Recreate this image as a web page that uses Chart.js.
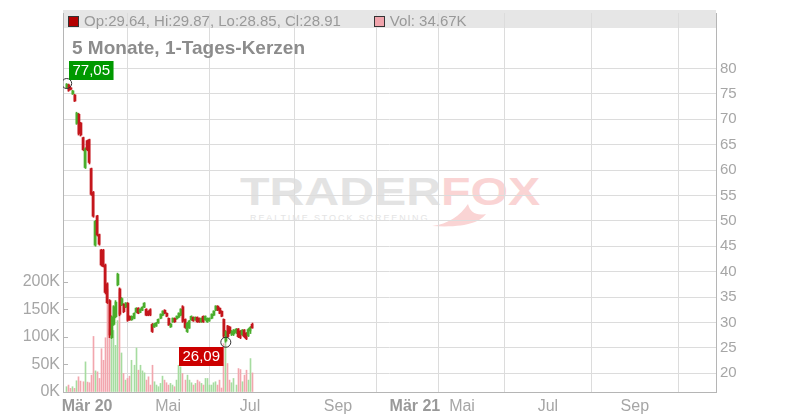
<!DOCTYPE html>
<html>
<head>
<meta charset="utf-8">
<script src="https://cdn.jsdelivr.net/npm/chart.js@4.4.0/dist/chart.umd.min.js"></script>
<style>
  body { margin: 0; background: #fff; }
  #wrap { position: relative; width: 800px; height: 420px; overflow: hidden;
          font-family: "Liberation Sans", Arial, sans-serif; }
  #hdrbar { position: absolute; left: 63px; top: 10px; width: 653px; height: 18px; background: #e6e6e6; z-index: 0; }
  #logo { position: absolute; left: 240px; top: 173px; z-index: 0; white-space: nowrap; }
  #logo .big { font: bold 38px/38px "Liberation Sans", Arial, sans-serif; color: #e3e3e3;
               transform: scaleX(1.27); transform-origin: left top; display: block; }
  #logo .big span { color: #fad4d4; }
  #logo .small { position: absolute; left: 10px; top: 41px; font: 9px/9px "Liberation Sans", Arial, sans-serif;
                 letter-spacing: 1.9px; color: #e4e4e4; }
  #swoosh { position: absolute; left: 430px; top: 196px; z-index: 0; }
  canvas { position: absolute; left: 0; top: 0; z-index: 1; }
  .txt { position: absolute; z-index: 2; white-space: nowrap; }
  #leg { left: 68px; top: 12px; font: 15px/18px "Liberation Sans", Arial, sans-serif; color: #999; }
  #leg i { display: inline-block; width: 9px; height: 9px; border: 1px solid #333; vertical-align: -1px; margin-right: 5px; }
  #title { left: 72px; top: 38px; font: bold 19px/19px "Liberation Sans", Arial, sans-serif; color: #8c8c8c; }
</style>
</head>
<body>
<div id="wrap">
  <div id="hdrbar"></div>
  <div id="logo">
    <div class="big">TRADER<span>FOX</span></div>
    <div class="small">REALTIME STOCK SCREENING</div>
  </div>
  <svg id="swoosh" width="70" height="32" viewBox="0 0 70 32">
    <path d="M2 30 C 18 28, 30 20, 38 8 C 40 16, 46 20, 56 18 C 50 26, 36 32, 2 30 Z" fill="#fad4d4"/>
  </svg>
  <canvas id="chart" width="800" height="420"></canvas>
  <div class="txt" id="leg"><i style="background:#b40000"></i>Op:29.64, Hi:29.87, Lo:28.85, Cl:28.91<span style="display:inline-block;width:33px"></span><i style="background:#f0a4ac"></i>Vol: 34.67K</div>
  <div class="txt" id="title">5 Monate, 1-Tages-Kerzen</div>
</div>

<script>
// daily candles, oldest first (trading day index = position)
const open  = [76.3, 76.8, 76.2, 75.0, 74.8, 69.2, 71.0, 69.3, 66.4, 60.5,
               65.8, 66.0, 60.3, 55.6, 45.2, 51.0, 47.3, 44.3, 44.2, 41.3,
               37.6, 34.3, 27.0, 29.6, 31.1, 37.4, 36.6, 33.4, 33.6, 33.0,
               33.8, 31.2, 30.5, 30.8, 32.0, 32.8, 32.0, 32.4, 33.0, 32.6,
               32.2, 32.5, 29.6, 29.1, 29.3, 29.9, 30.8, 31.4, 32.4, 31.8,
               30.8, 29.1, 30.1, 30.8, 30.7, 31.0, 31.4, 33.1, 30.6, 28.2,
               28.9, 30.5, 31.0, 30.5, 31.0, 30.8, 30.1, 31.2, 30.5, 30.1,
               30.3, 30.8, 31.4, 32.4, 33.2, 32.8, 32.2, 30.6, 26.3, 29.3,
               29.1, 27.6, 27.7, 28.0, 28.7, 28.3, 27.6, 28.5, 27.9, 27.4,
               28.3, 29.64];
const high  = [77.05, 76.95, 76.3, 75.7, 74.9, 71.4, 71.2, 69.4, 66.5, 64.4,
               65.9, 66.1, 60.4, 55.8, 50.1, 51.1, 47.4, 44.4, 44.4, 41.5,
               37.8, 34.5, 31.3, 33.3, 34.3, 39.7, 36.8, 34.9, 33.7, 33.9,
               33.9, 31.3, 31.3, 31.9, 32.9, 32.9, 32.7, 33.1, 33.9, 32.7,
               32.3, 32.7, 29.8, 29.8, 30.0, 30.7, 31.7, 32.3, 32.5, 31.9,
               30.9, 29.8, 30.9, 30.9, 31.3, 31.9, 32.7, 33.3, 30.7, 30.0,
               30.4, 31.3, 31.1, 31.1, 31.1, 30.9, 30.9, 31.3, 31.3, 30.9,
               30.9, 31.7, 32.3, 33.3, 33.3, 32.9, 32.3, 30.7, 28.4, 29.4,
               29.2, 28.4, 28.6, 28.8, 28.8, 28.4, 28.6, 28.6, 28.0, 28.8,
               29.2, 29.87];
const low   = [76.1, 75.5, 75.8, 74.9, 73.5, 69.0, 66.9, 66.7, 63.8, 60.3,
               63.8, 61.2, 55.0, 50.7, 45.0, 47.0, 45.2, 41.1, 40.9, 35.6,
               33.7, 27.0, 26.8, 29.4, 30.9, 37.2, 31.3, 33.3, 31.9, 32.9,
               30.2, 30.4, 30.4, 30.7, 31.9, 31.7, 31.9, 32.3, 32.9, 31.3,
               31.3, 31.3, 28.0, 29.0, 29.2, 29.8, 30.7, 31.3, 31.7, 31.1,
               29.4, 29.0, 30.0, 30.0, 30.6, 30.9, 31.3, 30.0, 28.8, 28.0,
               28.8, 30.4, 30.2, 30.4, 30.0, 30.0, 30.0, 30.0, 30.4, 30.0,
               30.2, 30.7, 31.3, 32.3, 32.3, 31.7, 31.1, 27.0, 26.09, 27.0,
               27.8, 27.4, 27.4, 27.8, 27.0, 26.8, 27.4, 27.0, 26.6, 27.2,
               27.8, 28.85];
const close = [76.9, 75.7, 75.9, 75.6, 73.6, 71.2, 67.2, 66.9, 64.0, 64.2,
               64.0, 61.5, 55.2, 50.9, 49.9, 47.2, 45.4, 41.3, 41.0, 35.9,
               33.9, 27.5, 31.1, 33.1, 34.0, 39.5, 31.6, 34.7, 32.1, 33.8,
               30.4, 30.5, 31.2, 31.8, 32.8, 31.8, 32.6, 33.0, 33.8, 31.4,
               31.4, 31.5, 28.2, 29.7, 29.9, 30.6, 31.6, 32.2, 31.8, 31.2,
               29.5, 29.7, 30.8, 30.1, 31.2, 31.8, 32.6, 30.2, 29.0, 29.8,
               30.3, 31.2, 30.3, 31.0, 30.1, 30.1, 30.8, 30.1, 31.2, 30.8,
               30.8, 31.6, 32.2, 33.2, 32.4, 31.8, 31.2, 27.3, 28.2, 27.2,
               27.9, 28.3, 28.5, 28.7, 27.2, 27.0, 28.5, 27.2, 26.8, 28.6,
               29.0, 28.91];
// volume in thousands
const volume = [9.6, 12.6, 6.6, 9.6, 6.6, 20.4, 27.6, 19.8, 18.6, 54.7,
                18.0, 16.8, 30.6, 100.9, 38.4, 36.6, 24.6, 78.6, 57.6, 98.5,
                186.8, 114.7, 96.7, 111.7, 84.7, 129.7, 180.7, 70.9, 33.6, 21.6,
                24.6, 28.8, 57.6, 48.6, 79.9, 39.6, 48.6, 38.4, 34.8, 21.6,
                27.6, 12.6, 48.6, 18.6, 12.6, 9.6, 15.6, 28.8, 21.6, 16.8,
                12.6, 15.6, 12.6, 9.6, 21.6, 48.6, 45.6, 33.6, 21.6, 30.6,
                21.6, 16.8, 12.6, 15.6, 21.6, 18.6, 15.6, 12.6, 24.6, 24.6,
                12.6, 12.6, 16.8, 18.6, 12.6, 21.6, 7.2, 87.7, 90.7, 51.7,
                21.6, 16.8, 24.6, 12.6, 42.6, 40.8, 18.6, 30.6, 39.6, 21.6,
                60.7, 34.67];

// month ticks on the trading-day axis (future months continue to the right)
const xTickDays   = [10, 49.7, 89.9, 133, 170.7, 193.8, 235.9, 278.5];
const xTickLabels = ['Mär 20', 'Mai', 'Jul', 'Sep', 'Mär 21', 'Mai', 'Jul', 'Sep'];
const priceTicks  = [20, 25, 30, 35, 40, 45, 50, 55, 60, 65, 70, 75, 80];
const volumeTicks = [0, 50, 100, 150, 200];

const UP = '#4aad2c', DOWN = '#c4161c';
const UP_VOL = '#a6dca0', DOWN_VOL = '#f2a6ae';
const isUp = open.map((o, i) => close[i] >= o);

const hiIdx = high.indexOf(Math.max(...high));
const loIdx = low.indexOf(Math.min(...low));
const fmt = v => v.toFixed(2).replace('.', ',');
const isYear = i => (xTickLabels[i] || '').startsWith('Mär');

// snap thin bars onto whole pixels so they render crisp like the original
const crispPlugin = {
  id: 'crisp',
  beforeDatasetsDraw(chart) {
    chart.data.datasets.forEach((ds, di) => {
      const meta = chart.getDatasetMeta(di);
      if (meta.type !== 'bar') return;
      meta.data.forEach(el => {
        const w = Math.round(el.width);
        el.x = w % 2 === 1 ? Math.floor(el.x) + 0.5 : Math.round(el.x);
      });
    });
  }
};

const tagsPlugin = {
  id: 'tags',
  afterDatasetsDraw(chart) {
    const { ctx, scales } = chart;
    const x = scales.x, y = scales.y, yv = scales.yv;
    ctx.save();
    // inward ticks on the volume axis
    ctx.strokeStyle = '#b5b5b5';
    ctx.lineWidth = 1;
    volumeTicks.forEach(v => {
      const py = Math.round(yv.getPixelForValue(v)) + 0.5;
      ctx.beginPath();
      ctx.moveTo(chart.chartArea.left, py);
      ctx.lineTo(chart.chartArea.left + 5, py);
      ctx.stroke();
    });
    ctx.font = '15px "Liberation Sans", Arial, sans-serif';
    ctx.textAlign = 'center';
    ctx.textBaseline = 'middle';
    const tag = (txt, left, top, bg) => {
      const w = ctx.measureText(txt).width + 7;
      ctx.fillStyle = bg;
      ctx.fillRect(left, top, w, 19);
      ctx.fillStyle = '#fff';
      ctx.fillText(txt, left + w / 2, top + 10);
    };
    const hx = x.getPixelForValue(hiIdx), hy = y.getPixelForValue(high[hiIdx]);
    tag(fmt(high[hiIdx]), Math.round(hx + 2.5), Math.round(hy - 23), '#009900');
    const lx = x.getPixelForValue(loIdx), ly = y.getPixelForValue(low[loIdx]);
    const lw = ctx.measureText(fmt(low[loIdx])).width + 7;
    tag(fmt(low[loIdx]), Math.round(lx - 2.5 - lw), Math.round(ly + 5), '#cc0000');
    ctx.restore();
  }
};

const gridColor = '#dcdcdc';
const axisColor = '#b5b5b5';
const labelColor = '#a6a6a6';
const family = '"Liberation Sans", Arial, sans-serif';

new Chart(document.getElementById('chart'), {
  type: 'bar',
  data: {
    datasets: [
      {
        type: 'scatter',
        data: [{ x: hiIdx, y: high[hiIdx] }, { x: loIdx, y: low[loIdx] }],
        yAxisID: 'y',
        pointRadius: 5,
        borderColor: '#333',
        borderWidth: 1,
        backgroundColor: 'rgba(255,255,255,0)',
        order: 0
      },
      {
        data: open.map((o, i) => ({ x: i, y: [Math.min(o, close[i]), Math.max(o, close[i])] })),
        yAxisID: 'y',
        backgroundColor: isUp.map(u => u ? UP : DOWN),
        barThickness: 2,
        minBarLength: 1,
        grouped: false,
        order: 1
      },
      {
        data: low.map((l, i) => ({ x: i, y: [l, high[i]] })),
        yAxisID: 'y',
        backgroundColor: isUp.map(u => u ? UP : DOWN),
        barThickness: 1,
        grouped: false,
        order: 2
      },
      {
        data: volume.map((v, i) => ({ x: i, y: v })),
        yAxisID: 'yv',
        backgroundColor: isUp.map(u => u ? UP_VOL : DOWN_VOL),
        barThickness: 1,
        grouped: false,
        order: 3
      }
    ]
  },
  options: {
    responsive: false,
    animation: false,
    devicePixelRatio: 1,
    layout: { padding: { top: 10, left: 0, right: 0, bottom: 0 } },
    plugins: { legend: { display: false }, tooltip: { enabled: false } },
    scales: {
      x: {
        type: 'linear',
        min: -1.81,
        max: 318.3,
        offset: false,
        afterBuildTicks: s => { s.ticks = xTickDays.map(v => ({ value: v })); },
        afterFit: s => { s.height = 28; },
        grid: { color: gridColor, drawTicks: false, tickLength: 0 },
        border: { color: axisColor },
        ticks: {
          autoSkip: false,
          maxRotation: 0,
          padding: 5,
          callback: (v, i) => xTickLabels[i],
          color: c => isYear(c.index) ? '#999' : labelColor,
          font: c => ({ size: 16, family, weight: isYear(c.index) ? 'bold' : 'normal' })
        }
      },
      y: {
        position: 'right',
        min: 16.29,
        max: 90.94,
        afterBuildTicks: s => { s.ticks = priceTicks.map(v => ({ value: v })); },
        afterFit: s => { s.width = 84; },
        grid: { color: gridColor, drawTicks: false, tickLength: 0 },
        border: { color: axisColor },
        ticks: { padding: 4, color: labelColor, font: { size: 15, family } }
      },
      yv: {
        position: 'left',
        min: 0,
        max: 688.3,
        afterBuildTicks: s => { s.ticks = volumeTicks.map(v => ({ value: v })); },
        afterFit: s => { s.width = 63; },
        grid: { drawOnChartArea: false, drawTicks: false, tickLength: 0 },
        border: { color: axisColor },
        ticks: { padding: 3, color: labelColor, callback: v => v + 'K', font: { size: 16, family } }
      }
    }
  },
  plugins: [crispPlugin, tagsPlugin]
});
</script>
</body>
</html>
